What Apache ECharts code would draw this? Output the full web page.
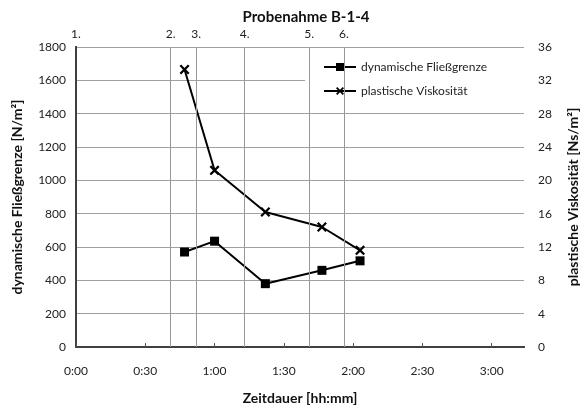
<!DOCTYPE html>
<html>
<head>
<meta charset="utf-8">
<script src="https://cdn.jsdelivr.net/npm/echarts@6/dist/echarts.min.js"></script>
<style>
  html, body { margin: 0; padding: 0; background: #fff; }
  #chart { width: 588px; height: 410px; }
</style>
</head>
<body>
<div id="chart"></div>
<script>
// Probenahme-Zeitpunkte (Minuten) und Beschriftung oben
const sampleLabels = ['1.', '2.', '3.', '4.', '5.', '6.'];
const sampleTimes = [0, 41, 52, 73, 101, 116];

// Messwerte
const timeMin = [47, 60, 82, 106.5, 123];
const fliessgrenze = [570, 635, 380, 460, 517];
const viskositaet = [33.3, 21.2, 16.2, 14.4, 11.6];

const FONT = 'Lato';
const crossPath = 'path://M0,1.6 L1.6,0 L5,3.4 L8.4,0 L10,1.6 L6.6,5 L10,8.4 L8.4,10 L5,6.6 L1.6,10 L0,8.4 L3.4,5 Z';

function hhmm(v) {
  const h = Math.floor(v / 60);
  const m = Math.round(v % 60);
  return h + ':' + (m < 10 ? '0' + m : m);
}

const chart = echarts.init(document.getElementById('chart'));
const option = {
  animation: false,
  textStyle: { fontFamily: FONT },
  title: {
    text: 'Probenahme B-1-4',
    left: 301, top: 5, textAlign: 'center',
    textStyle: { fontSize: 15, fontWeight: 'bold', color: '#111', fontFamily: FONT }
  },
  legend: {
    orient: 'vertical',
    left: 305, top: 53,
    padding: [8, 40, 8, 18],
    itemGap: 12,
    itemWidth: 32, itemHeight: 10,
    backgroundColor: '#fff',
    textStyle: { fontSize: 12, color: '#222', fontFamily: FONT },
    data: ['dynamische Fließgrenze', 'plastische Viskosität']
  },
  grid: { left: 76, right: 62, top: 47, bottom: 60 },
  xAxis: [
    {
      type: 'value', position: 'bottom',
      min: 0, max: 194, interval: 30,
      name: 'Zeitdauer [hh:mm]', nameLocation: 'middle', nameGap: 44,
      nameTextStyle: { fontSize: 14, fontWeight: 'bold', color: '#111', fontFamily: FONT },
      axisLine: { show: true, lineStyle: { color: '#404040', width: 2 } },
      axisTick: { show: true, inside: true, length: 4, lineStyle: { color: '#555' } },
      splitLine: { show: false },
      axisLabel: {
        margin: 18, fontSize: 12, color: '#222', showMaxLabel: false,
        formatter: v => (v % 30 === 0 ? hhmm(v) : '')
      }
    },
    {
      type: 'value', position: 'top',
      min: 0, max: 194,
      axisLine: { show: true, lineStyle: { color: '#404040', width: 2 } },
      axisTick: { show: false },
      splitLine: { show: false },
      axisLabel: {
        margin: 7, fontSize: 12, color: '#222',
        customValues: sampleTimes,
        formatter: v => sampleLabels[sampleTimes.indexOf(v)] || ''
      }
    }
  ],
  yAxis: [
    {
      type: 'value', position: 'left',
      min: 0, max: 1800, interval: 200,
      name: 'dynamische Fließgrenze [N/m²]', nameLocation: 'middle', nameGap: 52, nameRotate: 90,
      nameTextStyle: { fontSize: 14, fontWeight: 'bold', color: '#111', fontFamily: FONT },
      axisLine: { show: true, lineStyle: { color: '#404040', width: 2 } },
      axisTick: { show: false },
      axisLabel: { margin: 10, fontSize: 12, color: '#222', formatter: v => String(v) },
      splitLine: { show: true, lineStyle: { color: '#a0a0a0', width: 1 } }
    },
    {
      type: 'value', position: 'right',
      min: 0, max: 36, interval: 4,
      name: 'plastische Viskosität [Ns/m²]', nameLocation: 'middle', nameGap: 42, nameRotate: 90,
      nameTextStyle: { fontSize: 14, fontWeight: 'bold', color: '#111', fontFamily: FONT },
      axisLine: { show: true, lineStyle: { color: '#404040', width: 2 } },
      axisTick: { show: false },
      axisLabel: { margin: 14, fontSize: 12, color: '#222', formatter: v => String(v) },
      splitLine: { show: false }
    }
  ],
  series: [
    {
      name: 'dynamische Fließgrenze',
      type: 'line',
      xAxisIndex: 0, yAxisIndex: 0,
      data: timeMin.map((t, i) => [t, fliessgrenze[i]]),
      symbol: 'rect', symbolSize: 9,
      lineStyle: { color: '#000', width: 2 },
      itemStyle: { color: '#000' },
      markLine: {
        silent: true, symbol: 'none',
        label: { show: false },
        lineStyle: { color: '#999', width: 1, type: 'solid' },
        data: sampleTimes.slice(1).map(t => ({ xAxis: t }))
      },
      z: 3
    },
    {
      name: 'plastische Viskosität',
      type: 'line',
      xAxisIndex: 0, yAxisIndex: 1,
      data: timeMin.map((t, i) => [t, viskositaet[i]]),
      symbol: crossPath, symbolSize: 10,
      lineStyle: { color: '#000', width: 2 },
      itemStyle: { color: '#000' },
      z: 3
    }
  ]
};
chart.setOption(option);
window.addEventListener('resize', function () {
  chart.resize();
});
</script>
</body>
</html>
